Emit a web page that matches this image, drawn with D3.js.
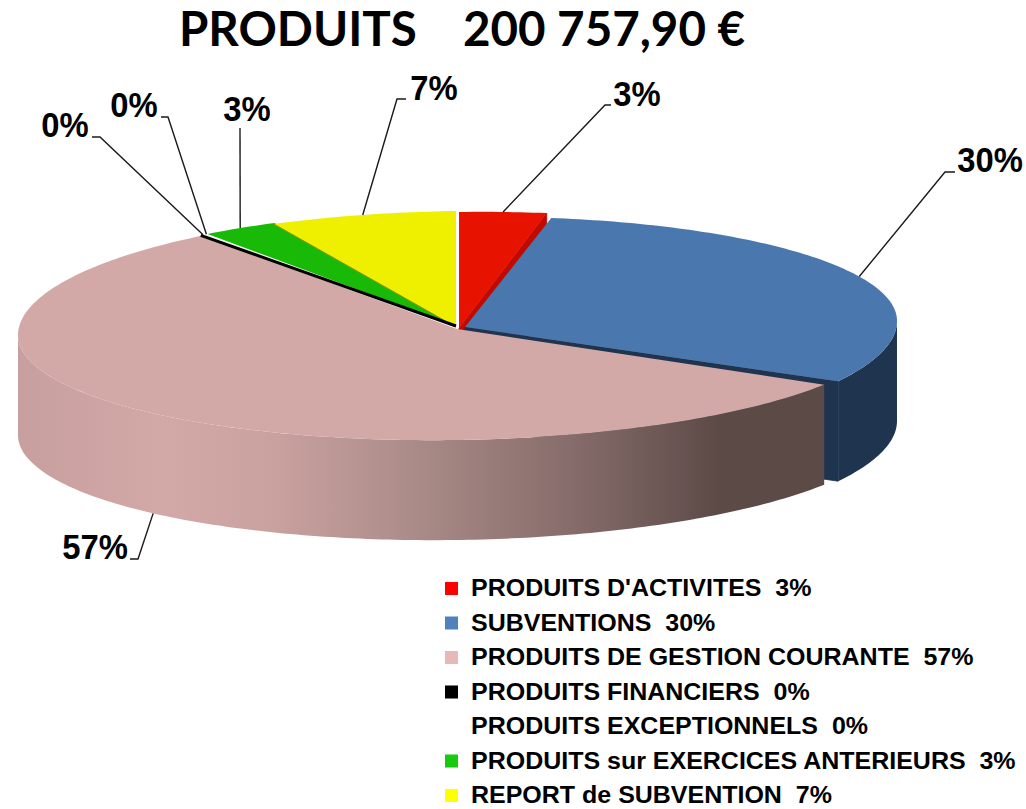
<!DOCTYPE html>
<html lang="fr">
	<head>
		<meta charset="UTF-8"/>
		<title>Produits</title>
		<script src="https://cdn.jsdelivr.net/npm/d3@7"></script>
		<style>
			html, body { margin: 0; padding: 0; background: #fff; }
			svg { display: block; }
			text { white-space: pre; }
		</style>
	</head>
	<body>
		<script type="text/javascript">
			var w = 1026;
			var h = 809;

			var titleText = "PRODUITS    200 757,90 €";
			var categories = ["PRODUITS D'ACTIVITES", "SUBVENTIONS", "PRODUITS DE GESTION COURANTE", "PRODUITS FINANCIERS", "PRODUITS EXCEPTIONNELS", "PRODUITS sur EXERCICES ANTERIEURS", "REPORT de SUBVENTION"];
			var values = [3.2, 30.2, 56.7, 0.2, 0.1, 2.8, 6.8];
			var topColors = ["#e81200", "#4a77ae", "#d3a9a7", "#000000", "#ffffff", "#19b907", "#efef00"];
			var sideColors = ["#c00a00", "#1f344f", "url(#pinkWall)", "#000000", "#ffffff", "#0f7a04", "#8f8f00"];
			var legendColors = ["#ff0000", "#4f81bd", "#e6b9b8", "#000000", "#ffffff", "#17c90f", "#ffff00"];

			// apex of each slice, the blue one is pulled out a bit
			var apexX = [459, 465, 457, 456, 456, 456, 456];
			var apexY = [328, 327, 329, 326, 326, 326, 327];
			var radiusX = [439, 432, 439, 438, 438, 438, 440];
			// the picture is in perspective: back and front half of the ellipse differ
			var radiusBack = [116, 110, 119, 116, 116, 116, 116];
			var radiusFront = [114, 118, 111, 115, 115, 115, 115];
			var tilt = -0.014;
			var depth = 100;

			// label baseline and leader elbow for each slice
			var labelX = [637, 990, 95, 65, 134, 247, 434];
			var labelY = [106, 172, 559, 137, 117, 121, 100];
			var elbowX = [605, 945, 138, 100, 168, 240, 397];
			var elbowY = [105, 172, 559, 137, 117, 128, 99];
			var tailX = [611, 955, 130, 92, 161, 240, 406];
			var tailY = [105, 172, 559, 137, 117, 128, 99];

			var svg = d3.select("body")
				.append("svg")
				.attr("width", w)
				.attr("height", h);

			// Wall shading of the pink slice
			var grad = svg.append("defs").append("linearGradient")
				.attr("id", "pinkWall")
				.attr("gradientUnits", "userSpaceOnUse")
				.attr("x1", 18).attr("x2", 825).attr("y1", 0).attr("y2", 0);
			[[0, "#c79f9e"], [0.18, "#d3a9a7"], [0.32, "#c9a19f"], [0.5, "#a98a87"], [0.7, "#836a68"], [0.87, "#5c4a47"], [1, "#5c4a47"]]
				.forEach(function(s) {
					grad.append("stop").attr("offset", s[0]).attr("stop-color", s[1]);
				});

			var pie = d3.pie().sort(null).value(function(d) { return d; });
			var slices = pie(values);

			// the front wall of the pink slice starts a little later than the blue one ends (perspective)
			slices[2].startAngle += 3 * Math.PI / 180;

			function px(i, a) { return apexX[i] + radiusX[i] * Math.sin(a); }
			function py(i, a) {
				var c = Math.cos(a);
				return apexY[i] - (c > 0 ? radiusBack[i] : radiusFront[i]) * c + tilt * radiusX[i] * Math.sin(a);
			}

			function anglesOf(a0, a1) {
				var n = Math.max(2, Math.ceil((a1 - a0) * 60));
				return d3.range(n + 1).map(function(k) { return a0 + (a1 - a0) * k / n; });
			}

			var outline = d3.line();

			function drawTop(i) {
				var pts = anglesOf(slices[i].startAngle, slices[i].endAngle).map(function(a) { return [px(i, a), py(i, a)]; });
				pts.unshift([apexX[i], apexY[i]]);
				svg.append("path")
					.attr("d", outline(pts) + "Z")
					.attr("fill", topColors[i]);
			}

			function drawWall(i, a0, a1) {
				var area = d3.area()
					.x(function(a) { return px(i, a); })
					.y0(function(a) { return py(i, a); })
					.y1(function(a) { return py(i, a) + depth; });
				svg.append("path")
					.attr("d", area(anglesOf(a0, a1)))
					.attr("fill", sideColors[i]);
			}

			// cut face seen when a slice is pulled out
			function drawCut(i, a) {
				var area = d3.area()
					.x(function(t) { return apexX[i] + t * (px(i, a) - apexX[i]); })
					.y0(function(t) { return apexY[i] + t * (py(i, a) - apexY[i]); })
					.y1(function(t) { return apexY[i] + t * (py(i, a) - apexY[i]) + depth; });
				svg.append("path")
					.attr("d", area([0, 1]))
					.attr("fill", sideColors[i])
					.attr("stroke", sideColors[i])
					.attr("stroke-width", 0.8);
			}

			// back to front
			drawCut(0, slices[0].endAngle);
			drawCut(1, slices[1].endAngle);
			drawWall(1, Math.PI / 2, slices[1].endAngle);
			drawWall(2, slices[2].startAngle, Math.PI * 3 / 2);

			drawTop(0);
			drawTop(1);
			drawTop(2);
			drawTop(5);
			drawTop(6);

			// thin olive seam between green and yellow
			svg.append("line")
				.attr("x1", apexX[6]).attr("y1", apexY[6])
				.attr("x2", px(6, slices[6].startAngle)).attr("y2", py(6, slices[6].startAngle))
				.attr("stroke", "#8a8f00").attr("stroke-width", 1);

			// the 0% slices are only a hair wide, a stroke keeps the black one visible
			svg.append("line")
				.attr("x1", apexX[3]).attr("y1", apexY[3])
				.attr("x2", px(3, slices[3].startAngle)).attr("y2", py(3, slices[3].startAngle))
				.attr("stroke", topColors[3]).attr("stroke-width", 3);

			// Leader lines, the pink one leaves from the wall bottom
			var leader = d3.line();
			slices.forEach(function(s, i) {
				var mid = (s.startAngle + s.endAngle) / 2;
				var ax = px(i, mid);
				var ay = py(i, mid) + (i == 2 ? depth : 0);
				svg.append("path")
					.attr("d", leader([[ax, ay], [elbowX[i], elbowY[i]], [tailX[i], tailY[i]]]))
					.attr("fill", "none")
					.attr("stroke", "#1a1a1a")
					.attr("stroke-width", 1.4);
			});

			// squeeze text sideways, the reference glyphs are stretched
			function stretch(sel, factor) {
				sel.each(function() {
					d3.select(this)
						.attr("textLength", this.getComputedTextLength() * factor)
						.attr("lengthAdjust", "spacingAndGlyphs");
				});
			}

			// Percent labels
			svg.selectAll("text.pct")
				.data(values)
				.enter()
				.append("text")
				.attr("class", "pct")
				.text(function(d) { return Math.round(d) + "%"; })
				.attr("x", function(d, i) { return labelX[i]; })
				.attr("y", function(d, i) { return labelY[i]; })
				.attr("text-anchor", "middle")
				.attr("font-family", "Liberation Sans")
				.attr("font-weight", "bold")
				.attr("font-size", "34.5px")
				.attr("fill", "#000")
				.call(stretch, 0.95);

			// Title
			svg.append("text")
				.text(titleText)
				.attr("x", 462)
				.attr("y", 46)
				.attr("text-anchor", "middle")
				.attr("font-family", "Lato")
				.attr("font-weight", "bold")
				.attr("font-size", "47.5px")
				.attr("fill", "#000");

			// Legend
			var rowY = d3.scalePoint().domain(d3.range(categories.length)).range([588, 795]);

			svg.selectAll("rect.swatch")
				.data(categories)
				.enter()
				.append("rect")
				.attr("class", "swatch")
				.attr("x", 445)
				.attr("y", function(d, i) { return rowY(i) - 6; })
				.attr("width", 13)
				.attr("height", 13)
				.attr("fill", function(d, i) { return legendColors[i]; });

			svg.selectAll("text.legend")
				.data(categories)
				.enter()
				.append("text")
				.attr("class", "legend")
				.text(function(d, i) { return d + "  " + Math.round(values[i]) + "%"; })
				.attr("x", 471)
				.attr("y", function(d, i) { return rowY(i) + 8; })
				.attr("font-family", "Liberation Sans")
				.attr("font-weight", "bold")
				.attr("font-size", "23.5px")
				.attr("fill", "#000")
				.call(stretch, 1.063);
		</script>
	</body>
</html>
